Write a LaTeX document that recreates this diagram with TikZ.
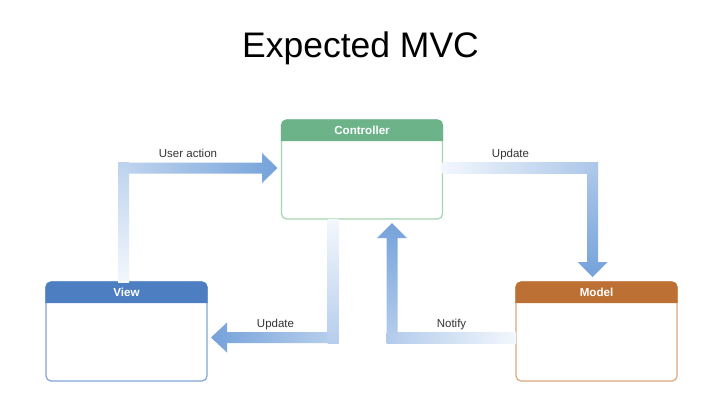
\documentclass[tikz,border=0pt]{standalone}
\usepackage{fontspec}
\setmainfont{Liberation Sans}
\usetikzlibrary{calc}
\definecolor{ctrlhead}{HTML}{6CB38A}
\definecolor{ctrlborder}{HTML}{A3D5B3}
\definecolor{viewhead}{HTML}{4C7EC1}
\definecolor{viewborder}{HTML}{7EA4D8}
\definecolor{modelhead}{HTML}{BD7034}
\definecolor{modelborder}{HTML}{DBA77E}
\definecolor{astart}{HTML}{F3F7FD}
\definecolor{aend}{HTML}{75A2DA}
\definecolor{labelgray}{HTML}{333333}
\newcommand{\mvcheader}[3]{%
  \fill[#2] ([shift={(-0.6,21)}]#1.north west) [rounded corners=5.6pt] -- ([shift={(-0.6,-0.6)}]#1.north west) -- ([shift={(0.6,-0.6)}]#1.north east) [sharp corners] -- ([shift={(0.6,21)}]#1.north east) -- cycle;
  \node[headtext] (#1title) at ([shift={(0,10.5)}]#1.north) {#3};}
\begin{document}
\begin{tikzpicture}[x=1pt,y=-1pt,
  mvcbox/.style={draw, line width=1.2pt, fill=white, rounded corners=5pt,
    minimum width=161pt, minimum height=99pt, inner sep=0pt, outer sep=0pt},
  headtext/.style={text=white, font=\bfseries\fontsize{11.6}{13}\selectfont, inner sep=0pt},
  arrowlabel/.style={text=labelgray, font=\fontsize{11.5}{13}\selectfont, inner sep=0pt, anchor=base}]
\useasboundingbox[fill=white] (0,0) rectangle (718,418);

\node[anchor=base, font=\fontsize{35.5}{40}\selectfont, inner sep=0pt] (title) at (360.5,57) {Expected MVC};

\node[mvcbox, draw=ctrlborder] (ctrl) at (362,169.5) {};
\node[mvcbox, draw=viewborder] (view) at (126.5,331.5) {};
\node[mvcbox, draw=modelborder] (model) at (596.5,331.5) {};
\mvcheader{ctrl}{ctrlhead}{Controller}
\mvcheader{view}{viewhead}{View}
\mvcheader{model}{modelhead}{Model}

% User action: View -> Controller
\coordinate (a1s) at (118,0 |- view.north);
\coordinate (a1t) at (ctrl.west |- 0,168);
\shade[bottom color=astart, top color=aend!43!astart] (a1s) rectangle (129,162.5);
\shade[left color=aend!43!astart, right color=aend] (129,162.5) -- (262,162.5) -- (262,153) -- ($(a1t)+(-4,0)$) -- (262,183) -- (262,173.5) -- (129,173.5) -- cycle;
\node[arrowlabel] (l1) at (188,157) {User action};

% Update: Controller -> Model
\coordinate (a2s) at (ctrl.east |- 0,162.5);
\coordinate (a2t) at (592.5,0 |- model.north);
\shade[left color=astart, right color=aend!58!astart] (a2s) rectangle (598,173.5);
\shade[top color=aend!58!astart, bottom color=aend] (587,173.5) -- (587,262) -- (577.5,262) -- ($(a2t)+(0,-5)$) -- (607.5,262) -- (598,262) -- (598,173.5) -- cycle;
\node[arrowlabel] (l2) at (510.5,157) {Update};

% Update: Controller -> View
\coordinate (a3s) at (327.5,0 |- ctrl.south);
\coordinate (a3t) at (view.east |- 0,337.5);
\shade[top color=astart, bottom color=aend!49!astart] (a3s) rectangle (338.5,343);
\shade[right color=aend!49!astart, left color=aend] (327.5,332) -- (227,332) -- (227,322.5) -- ($(a3t)+(4,0)$) -- (227,352.5) -- (227,343) -- (327.5,343) -- cycle;
\node[arrowlabel] (l3) at (275.5,327) {Update};

% Notify: Model -> Controller
\coordinate (a4s) at (model.west |- 0,332);
\coordinate (a4t) at (392,0 |- ctrl.south);
\shade[right color=astart, left color=aend!52!astart] (a4s) rectangle (386.5,343);
\shade[bottom color=aend!52!astart, top color=aend] (386.5,332) -- (386.5,238) -- (377,238) -- ($(a4t)+(0,4)$) -- (407,238) -- (397.5,238) -- (397.5,332) -- cycle;
\node[arrowlabel] (l4) at (451.5,327) {Notify};
\end{tikzpicture}
\end{document}
